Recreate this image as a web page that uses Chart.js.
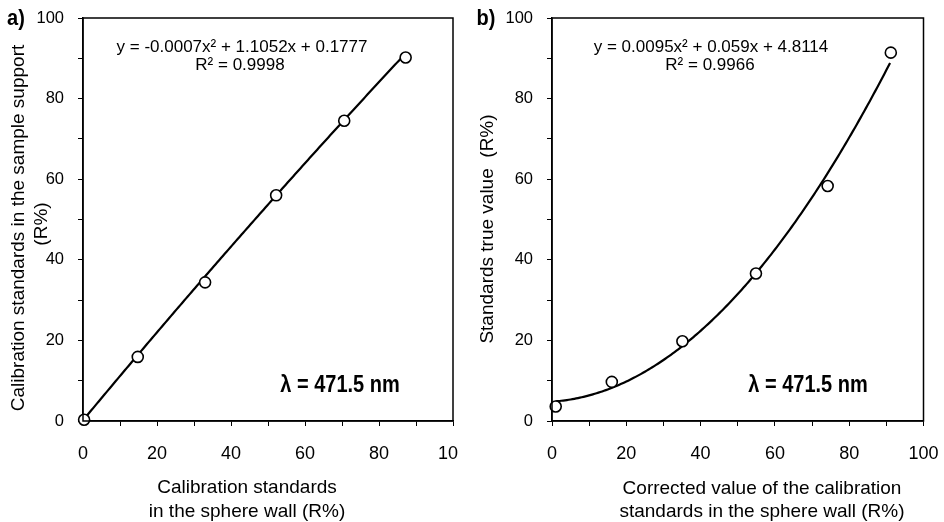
<!DOCTYPE html>
<html>
<head>
<meta charset="utf-8">
<script src="https://cdn.jsdelivr.net/npm/chart.js@4.4.0/dist/chart.umd.min.js"></script>
<style>
  body { margin: 0; background: #fff; }
  #wrap { position: relative; width: 944px; height: 522px; }
  canvas { position: absolute; top: 0; }
</style>
</head>
<body>
<div id="wrap">
  <canvas id="chartA" width="472" height="522" style="left:0"></canvas>
  <canvas id="chartB" width="472" height="522" style="left:472px"></canvas>
</div>
<script>
// Panel a: sample support vs sphere wall
const wallA = [0.3, 14.8, 33.0, 52.2, 70.6, 87.2];
const supportA = [0.3, 15.9, 34.4, 56.0, 74.5, 90.2];
const fitA = [-0.0007, 1.1052, 0.1777]; // x^2, x, const

// Panel b: true value vs corrected value
const correctedB = [1.0, 16.1, 35.1, 54.9, 74.2, 91.2];
const trueB = [3.6, 9.7, 19.8, 36.6, 58.3, 91.4];
const fitB = [0.0095, 0.059, 4.8114];

// tick labels (last one in panel a is cut to "10" in the source; figure space keeps it in place)
const majorTicks = [0, 20, 40, 60, 80, 100];
const xLabelsA = ['0', '20', '40', '60', '80', '10\u2007'];
const xLabelsB = ['0', '20', '40', '60', '80', '100'];
const yLabels = ['0', '20', '40', '60', '80', '100'];

const FONT = '"Liberation Sans", Arial, sans-serif';

function toPoints(xs, ys) {
    return xs.map((x, i) => ({ x: x, y: ys[i] }));
}

// trendline from the printed fit coefficients
function trendline(coef, xs) {
    const pts = [];
    const x0 = Math.min(...xs), x1 = Math.max(...xs);
    for (let x = x0; x <= x1 + 1e-9; x += 0.5) {
        pts.push({ x: x, y: coef[0] * x * x + coef[1] * x + coef[2] });
    }
    return pts;
}

function labelFor(labels) {
    return function(value) {
        const i = majorTicks.indexOf(value);
        return i >= 0 ? labels[i] : '';
    };
}

// frame + free texts
function decorPlugin(texts) {
    return {
        id: 'decor',
        afterDraw(chart) {
            const ctx = chart.ctx;
            const a = chart.chartArea;
            ctx.save();
            ctx.strokeStyle = '#000';
            ctx.lineWidth = 1.5;
            ctx.strokeRect(a.left, a.top, a.right - a.left, a.bottom - a.top);
            ctx.fillStyle = '#000';
            ctx.textAlign = 'center';
            ctx.textBaseline = 'middle';
            texts.forEach(t => {
                ctx.font = t.font;
                ctx.save();
                ctx.translate(t.x, t.y);
                if (t.rotate) ctx.rotate(-Math.PI / 2);
                if (t.sy) ctx.scale(1, t.sy);
                ctx.fillText(t.text, 0, 0);
                ctx.restore();
            });
            ctx.restore();
        }
    };
}

function makeChart(id, xs, ys, coef, xLabels, yAxisWidth, padRight, texts) {
    const ctx = document.getElementById(id).getContext('2d');
    return new Chart(ctx, {
        type: 'scatter',
        data: {
            datasets: [{
                data: toPoints(xs, ys),
                pointStyle: 'circle',
                pointRadius: 5.5,
                pointBorderWidth: 1.6,
                pointBorderColor: '#000',
                pointBackgroundColor: '#fff',
                clip: false,
                order: 0
            }, {
                data: trendline(coef, xs),
                showLine: true,
                borderColor: '#000',
                borderWidth: 2.2,
                pointRadius: 0,
                order: 1
            }]
        },
        options: {
            responsive: false,
            animation: false,
            events: [],
            layout: { padding: { top: 18, right: padRight, left: 0, bottom: 0 } },
            plugins: { legend: { display: false }, tooltip: { enabled: false } },
            scales: {
                x: {
                    type: 'linear', min: 0, max: 100,
                    afterFit: axis => {
                        axis.height = 101;
                        axis.paddingLeft = 0; axis.paddingRight = 0;
                    },
                    grid: { drawOnChartArea: false, drawTicks: true, tickLength: 5, color: '#000', lineWidth: 1 },
                    border: { color: '#000', width: 1.5 },
                    ticks: {
                        stepSize: 10, autoSkip: false, maxRotation: 0, padding: 17,
                        color: '#000', font: { family: FONT, size: 18 },
                        callback: labelFor(xLabels)
                    }
                },
                y: {
                    type: 'linear', min: 0, max: 100,
                    afterFit: axis => {
                        axis.width = yAxisWidth;
                        axis.paddingTop = 0; axis.paddingBottom = 0;
                    },
                    grid: { drawOnChartArea: false, drawTicks: true, tickLength: 5, color: '#000', lineWidth: 1 },
                    border: { color: '#000', width: 1.5 },
                    ticks: {
                        stepSize: 10, autoSkip: false, padding: 14,
                        color: '#000', font: { family: FONT, size: 16.5 },
                        callback: labelFor(yLabels)
                    }
                }
            }
        },
        plugins: [decorPlugin(texts)]
    });
}

const eqFont = '17px ' + FONT;
const titleFont = '19px ' + FONT;
const boldFont = 'bold 20px ' + FONT;

makeChart('chartA', wallA, supportA, fitA, xLabelsA, 83, 19, [
    { text: 'a)', x: 16, y: 19, font: 'bold 20px ' + FONT, sy: 1.1 },
    { text: 'y = -0.0007x\u00B2 + 1.1052x + 0.1777', x: 242, y: 47, font: eqFont },
    { text: 'R\u00B2 = 0.9998', x: 240, y: 65, font: eqFont },
    { text: '\u03BB = 471.5 nm', x: 340, y: 385, font: boldFont, sy: 1.2 },
    { text: 'Calibration standards in the sample support', x: 19, y: 228, font: titleFont, rotate: true },
    { text: '(R%)', x: 42, y: 224, font: titleFont, rotate: true },
    { text: 'Calibration standards', x: 247, y: 488, font: titleFont },
    { text: 'in the sphere wall (R%)', x: 247, y: 512, font: titleFont }
]);

makeChart('chartB', correctedB, trueB, fitB, xLabelsB, 80, 20.5, [
    { text: 'b)', x: 14, y: 19, font: 'bold 20px ' + FONT, sy: 1.1 },
    { text: 'y = 0.0095x\u00B2 + 0.059x + 4.8114', x: 239, y: 47, font: eqFont },
    { text: 'R\u00B2 = 0.9966', x: 238, y: 65, font: eqFont },
    { text: '\u03BB = 471.5 nm', x: 336, y: 385, font: boldFont, sy: 1.2 },
    { text: 'Standards true value  (R%)', x: 16, y: 229, font: titleFont, rotate: true },
    { text: 'Corrected value of the calibration', x: 290, y: 489, font: titleFont },
    { text: 'standards in the sphere wall (R%)', x: 290, y: 512, font: titleFont }
]);
</script>
</body>
</html>
